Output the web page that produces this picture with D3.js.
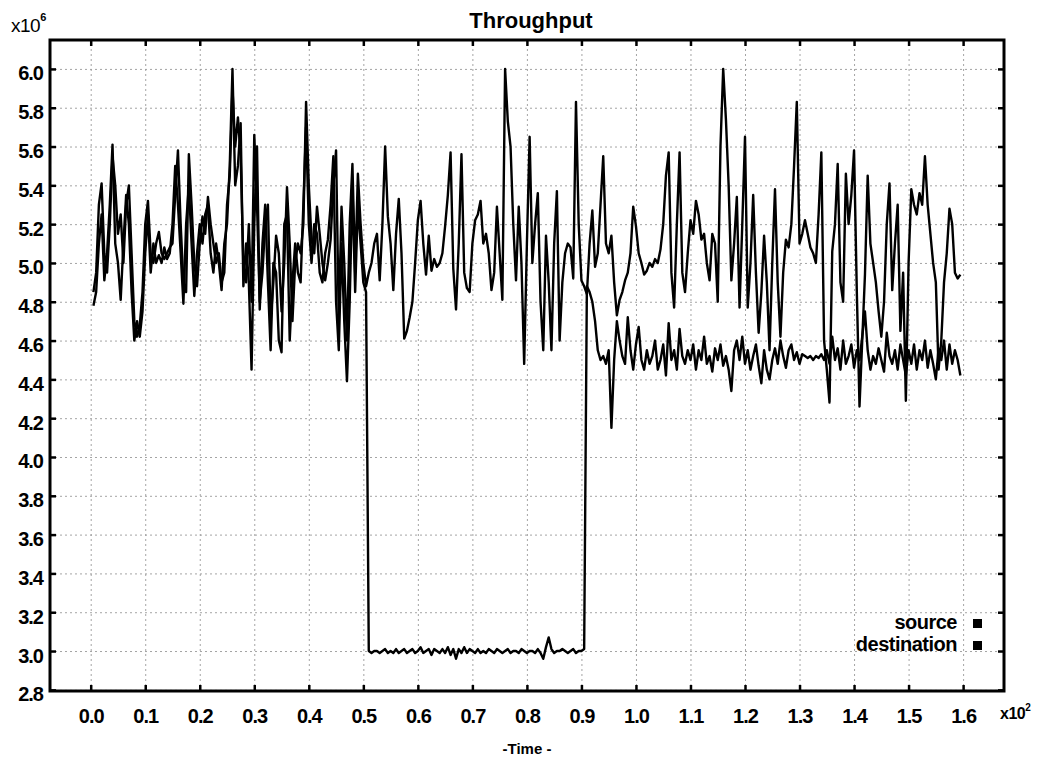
<!DOCTYPE html>
<html><head><meta charset="utf-8">
<script src="https://cdn.jsdelivr.net/npm/d3@7"></script>
<style>
body{margin:0;background:#fff;}
svg{display:block;font-family:"Liberation Sans",Arial,sans-serif;}
</style></head><body><svg id="c" width="1047" height="763"></svg>
<script>
// ---------- data ----------
const chartTitle = "Throughput";
const xAxisTitle = "-Time -";
const xTicks = [0,10,20,30,40,50,60,70,80,90,100,110,120,130,140,150,160];
const yTicks = [2.8,3.0,3.2,3.4,3.6,3.8,4.0,4.2,4.4,4.6,4.8,5.0,5.2,5.4,5.6,5.8,6.0];
const seriesNames = ["source","destination"];
const tStart = 0.5, tStep = 0.5;   // sampling grid (time units)
const source = [
 4.85,4.95,5.30,5.41,5.05,4.95,5.20,5.55,5.40,5.15,
 5.25,5.00,5.30,5.40,5.05,4.70,4.62,4.68,4.85,5.20,
 5.32,5.05,5.00,5.10,5.16,5.05,5.02,5.05,5.08,5.10,
 5.35,5.58,5.20,4.90,4.85,5.56,5.30,5.00,4.88,5.10,
 5.24,5.15,5.34,5.20,5.10,5.00,5.05,4.90,4.95,5.30,
 5.45,5.90,5.60,5.75,5.55,5.00,4.90,5.20,4.80,5.66,
 5.30,4.80,4.95,5.20,5.30,4.70,4.90,5.14,5.05,4.75,
 5.00,5.39,5.10,4.70,5.00,5.10,5.05,5.20,5.83,5.40,
 5.12,5.05,5.29,5.15,5.00,4.91,5.00,5.12,5.40,5.58,
 4.70,5.29,5.00,4.60,5.20,5.51,4.95,5.46,5.20,5.00,
 4.88,4.95,5.00,5.10,5.15,4.91,5.20,5.60,5.24,5.10,
 4.86,5.15,5.33,5.05,4.61,4.65,4.72,4.80,5.00,5.22,
 5.32,5.10,4.94,5.14,4.96,5.02,4.98,5.00,5.05,5.19,
 5.35,5.57,4.97,4.76,5.10,5.56,4.95,4.87,4.85,5.10,
 5.22,5.25,5.32,5.10,5.15,5.05,4.86,4.95,5.29,5.05,
 4.81,6.00,5.73,5.60,5.20,4.91,5.29,5.00,4.48,5.10,
 5.65,5.00,5.20,5.36,4.80,4.55,5.14,4.90,4.55,5.10,
 5.37,4.60,4.90,5.05,5.10,5.08,4.92,5.83,5.20,4.91,
 4.88,4.84,5.10,5.27,4.98,5.05,5.30,5.55,5.10,5.05,
 5.14,4.90,4.73,4.81,4.85,4.91,4.95,5.05,5.29,5.19,
 5.05,5.00,4.94,4.96,5.00,4.98,5.02,5.00,5.07,5.20,
 5.45,5.57,4.95,4.77,5.20,5.57,4.95,4.85,5.05,5.22,
 5.15,5.32,5.25,5.12,5.15,5.00,4.91,5.15,5.10,4.80,
 5.60,6.00,5.74,5.40,4.91,5.10,5.34,4.77,5.20,5.65,
 4.77,5.00,5.35,4.95,4.64,4.85,5.14,4.90,4.55,5.00,
 5.38,4.90,4.62,4.95,5.12,5.08,5.20,5.50,5.83,5.10,
 5.15,5.22,5.15,5.08,5.05,5.00,5.25,5.57,4.60,4.45,
 4.28,5.06,5.20,5.51,4.90,4.80,5.46,5.20,5.35,5.58,
 4.86,4.26,4.60,4.94,5.45,5.10,5.00,4.90,4.75,4.62,
 4.80,5.20,5.41,4.86,5.10,5.30,4.65,4.95,4.29,5.00,
 5.38,5.30,5.25,5.36,5.30,5.55,5.30,5.15,5.00,4.90,
 4.45,4.60,4.90,5.05,5.28,5.20,4.95,4.92,4.94
];
const destination = [
 4.78,4.85,5.10,5.25,4.91,5.05,5.30,5.61,5.10,5.00,
 4.81,5.10,5.35,5.20,4.85,4.60,4.70,4.62,4.75,5.05,
 5.25,4.95,5.10,5.00,5.04,5.00,5.08,5.02,5.05,5.20,
 5.50,5.30,5.05,4.79,5.20,5.40,5.10,4.83,5.05,5.20,
 5.10,5.25,5.30,5.05,4.95,5.10,5.00,4.86,5.10,5.20,
 5.50,6.00,5.40,5.50,5.72,4.88,5.10,4.90,4.45,5.20,
 5.60,4.76,5.10,5.30,4.90,4.55,5.00,4.95,4.60,4.54,
 5.20,5.25,4.60,4.90,5.10,4.95,4.90,5.30,5.70,5.20,
 5.00,5.20,5.15,4.95,4.90,5.05,5.12,5.30,5.55,4.80,
 4.55,5.10,4.70,4.39,4.80,5.40,4.85,5.30,5.10,4.90,
 4.85,3.00,2.99,3.00,3.00,2.99,3.00,3.01,2.99,3.00,
 2.99,3.01,2.99,3.00,3.01,2.99,3.00,3.01,2.99,3.00,
 3.02,2.99,3.00,3.01,2.98,3.01,3.00,2.99,3.01,2.99,
 3.02,2.98,3.01,2.96,3.01,2.99,3.02,2.99,3.01,3.00,
 2.99,3.01,2.99,3.00,2.99,3.01,3.00,2.99,3.01,3.00,
 2.99,3.00,3.01,2.99,3.00,3.00,2.99,3.01,3.00,2.99,
 3.00,3.00,2.99,3.01,2.99,2.96,3.02,3.07,3.01,2.99,
 3.00,3.00,3.01,3.00,2.99,3.00,3.01,2.99,3.00,3.00,
 3.01,4.88,4.85,4.80,4.70,4.55,4.50,4.52,4.48,4.55,
 4.15,4.50,4.70,4.60,4.52,4.48,4.72,4.55,4.45,4.58,
 4.67,4.50,4.45,4.55,4.48,4.52,4.60,4.45,4.50,4.58,
 4.42,4.69,4.50,4.55,4.45,4.66,4.52,4.48,4.55,4.50,
 4.58,4.45,4.55,4.50,4.62,4.48,4.52,4.44,4.56,4.50,
 4.58,4.47,4.52,4.45,4.34,4.55,4.60,4.50,4.62,4.48,
 4.55,4.45,4.52,4.58,4.47,4.38,4.55,4.45,4.40,4.50,
 4.56,4.48,4.60,4.52,4.46,4.55,4.58,4.50,4.54,4.48,
 4.53,4.52,4.51,4.52,4.50,4.52,4.51,4.53,4.50,4.55,
 4.48,4.62,4.50,4.56,4.45,4.60,4.48,4.52,4.58,4.46,
 4.55,4.50,4.62,4.75,4.55,4.45,4.52,4.48,4.56,4.50,
 4.44,4.64,4.52,4.48,4.55,4.45,4.58,4.50,4.42,4.55,
 4.48,4.58,4.45,4.55,4.50,4.60,4.46,4.55,4.48,4.40,
 4.56,4.50,4.60,4.45,4.58,4.48,4.55,4.50,4.42
];

// ---------- layout ----------
const L = 50, T = 40, R = 1004, B = 691;
const svg = d3.select("#c");
svg.append("rect").attr("width",1047).attr("height",763).attr("fill","#fff");

const x = d3.scaleLinear().domain([-7.465, 167.5]).range([L, R]);
const y = d3.scaleLinear().domain([2.794, 6.149]).range([B, T]);

const FONT = '"Liberation Sans", Arial, sans-serif';

// grid
const gx = svg.append("g").attr("transform",`translate(0,${B})`)
  .call(d3.axisBottom(x).tickValues(xTicks).tickSize(-(B-T)).tickFormat(""));
const gy = svg.append("g").attr("transform",`translate(${L},0)`)
  .call(d3.axisLeft(y).tickValues(yTicks).tickSize(-(R-L)).tickFormat(""));
[gx,gy].forEach(g=>{
  g.select(".domain").remove();
  g.selectAll("line").attr("stroke","#9a9a9a").attr("stroke-width",0.9).attr("stroke-dasharray","2,3");
});

// series lines
const line = d3.line().x((d,i)=>x(tStart + i*tStep)).y(d=>y(d));
svg.append("clipPath").attr("id","clip").append("rect")
  .attr("x",L).attr("y",T).attr("width",R-L).attr("height",B-T);
const plot = svg.append("g").attr("clip-path","url(#clip)");
[source, destination].forEach(s=>{
  plot.append("path").datum(s).attr("d",line)
    .attr("fill","none").attr("stroke","#000").attr("stroke-width",2.4)
    .attr("stroke-linejoin","round");
});

// axes with inward ticks
const ax = svg.append("g").attr("transform",`translate(0,${B})`)
  .call(d3.axisBottom(x).tickValues(xTicks).tickSize(-6).tickPadding(18)
    .tickFormat(d=>(d/100).toFixed(1)));
const axTop = svg.append("g").attr("transform",`translate(0,${T})`)
  .call(d3.axisTop(x).tickValues(xTicks).tickSize(-6).tickFormat(""));
const ay = svg.append("g").attr("transform",`translate(${L},0)`)
  .call(d3.axisLeft(y).tickValues(yTicks).tickSize(-6).tickPadding(7)
    .tickFormat(d=>d.toFixed(1)));
const ayR = svg.append("g").attr("transform",`translate(${R},0)`)
  .call(d3.axisRight(y).tickValues(yTicks).tickSize(-6).tickFormat(""));
[ax,axTop,ay,ayR].forEach(g=>{
  g.select(".domain").remove();
  g.selectAll("line").attr("stroke","#000").attr("stroke-width",2.5);
  g.selectAll("text").attr("fill","#000").attr("font-family",FONT)
    .attr("font-size",20).attr("font-weight","bold").attr("letter-spacing",-1);
});
ay.selectAll("text").attr("dy","0.55em");

// frame
svg.append("rect").attr("x",L).attr("y",T).attr("width",R-L).attr("height",B-T)
  .attr("fill","none").attr("stroke","#000").attr("stroke-width",3);

// title
svg.append("text").attr("x",531).attr("y",28).attr("text-anchor","middle")
  .attr("font-family",FONT).attr("font-size",22).attr("font-weight","bold")
  .text(chartTitle);

// y multiplier
const ym = svg.append("text").attr("x",11).attr("y",32).attr("font-family",FONT)
  .attr("font-size",19).attr("letter-spacing",-0.5);
ym.append("tspan").text("x10");
ym.append("tspan").attr("font-size",11).attr("dy",-11).attr("font-weight","bold").text("6");

// x multiplier
const xm = svg.append("text").attr("x",1000).attr("y",719).attr("font-family",FONT)
  .attr("font-size",16).attr("font-weight","bold").attr("letter-spacing",-0.5);
xm.append("tspan").text("x10");
xm.append("tspan").attr("font-size",10).attr("dy",-8).text("2");

// x title
svg.append("text").attr("x",527).attr("y",754).attr("text-anchor","middle")
  .attr("font-family",FONT).attr("font-size",15).attr("font-weight","bold")
  .text(xAxisTitle);

// legend
const legY = [623, 645];
seriesNames.forEach((n,i)=>{
  svg.append("text").attr("x",957).attr("y",legY[i]+6).attr("text-anchor","end")
    .attr("font-family",FONT).attr("font-size",20).attr("font-weight","bold")
    .attr("letter-spacing",-0.5).text(n);
  svg.append("rect").attr("x",973).attr("y",legY[i]-4).attr("width",9).attr("height",9)
    .attr("fill","#000");
});
</script></body></html>
